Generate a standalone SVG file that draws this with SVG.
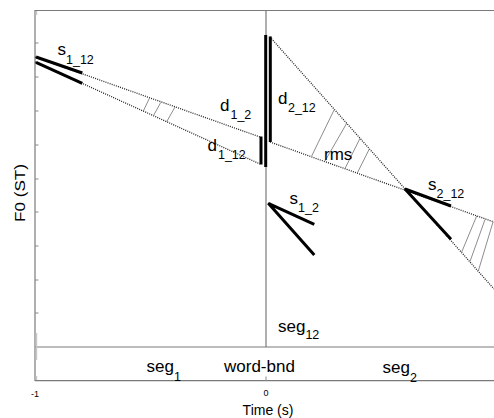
<svg xmlns="http://www.w3.org/2000/svg" width="494" height="418" viewBox="0 0 494 418">
<style>
.ax{stroke:#7a7a7a;stroke-width:1.2;fill:none}
.tk{stroke:#8a8a8a;stroke-width:1;fill:none}
.dot{stroke:#222;stroke-width:1.3;stroke-dasharray:1 1.2;fill:none}
.thk{stroke:#000;stroke-width:3;fill:none;stroke-linecap:butt}
.hat{stroke:#707070;stroke-width:0.8;fill:none}
text{font-family:"Liberation Sans",Arial,sans-serif;fill:#000}
.lbl{font-size:17px}
.sub{font-size:12.5px}
.big{font-size:17px}
.tick{font-size:9px}
.axl{font-size:14px}
</style>
<rect width="494" height="418" fill="#fff"/>
<g id="axes">
<line class="ax" x1="35" y1="10.5" x2="494" y2="10.5"/>
<line class="ax" x1="35" y1="10" x2="35" y2="381"/>
<line class="ax" x1="35" y1="380.7" x2="494" y2="380.7"/>
<line class="ax" x1="35" y1="347" x2="494" y2="347"/>
<line class="ax" x1="266" y1="10" x2="266" y2="347"/>
<line class="tk" x1="266" y1="376.5" x2="266" y2="381"/>
<line stroke="#c8c8c8" stroke-width="1.5" x1="36.5" y1="333" x2="36.5" y2="360"/>
<line stroke="#c8c8c8" stroke-width="1.5" x1="36.5" y1="11" x2="36.5" y2="15"/>
<line stroke="#c8c8c8" stroke-width="1.5" x1="36.5" y1="376" x2="36.5" y2="380"/>
<g class="tk">
<line x1="35" y1="43" x2="38.5" y2="43"/>
<line x1="35" y1="77" x2="38.5" y2="77"/>
<line x1="35" y1="111" x2="38.5" y2="111"/>
<line x1="35" y1="145" x2="38.5" y2="145"/>
<line x1="35" y1="179" x2="38.5" y2="179"/>
<line x1="35" y1="212" x2="38.5" y2="212"/>
<line x1="35" y1="246" x2="38.5" y2="246"/>
<line x1="35" y1="280" x2="38.5" y2="280"/>
<line x1="35" y1="313" x2="38.5" y2="313"/>
</g>
<text class="tick" x="35" y="396.5" text-anchor="middle">-1</text>
<text class="tick" x="266" y="396" text-anchor="middle">0</text>
<text class="axl" x="268" y="415" text-anchor="middle">Time (s)</text>
<text class="axl" x="0" y="0" text-anchor="middle" transform="translate(25,193) rotate(-90)" textLength="58" lengthAdjust="spacingAndGlyphs">F0 (ST)</text>
</g>
<g id="connectors">
<line class="dot" x1="35" y1="57" x2="260" y2="137"/>
<line class="dot" x1="35" y1="62" x2="260" y2="164"/>
<line class="dot" x1="270" y1="37" x2="494" y2="289"/>
<line class="dot" x1="270" y1="142" x2="494" y2="222"/>
</g>
<g id="hatching" class="hat">
<line x1="143.3" y1="111" x2="149.3" y2="98.5"/>
<line x1="153.3" y1="116" x2="160.7" y2="102.5"/>
<line x1="166.7" y1="121.7" x2="175" y2="107"/>
<line x1="311.7" y1="156" x2="334.3" y2="109.5"/>
<line x1="325" y1="161" x2="346.7" y2="123.3"/>
<line x1="345" y1="168.5" x2="360" y2="138.3"/>
<line x1="357.3" y1="173" x2="369.3" y2="149"/>
<line x1="461.7" y1="252" x2="476.7" y2="216"/>
<line x1="470" y1="261.5" x2="485" y2="219.5"/>
<line x1="478.3" y1="271" x2="493" y2="222"/>
</g>
<g id="slopes">
<line class="thk" x1="36" y1="57" x2="82.3" y2="73"/>
<line class="thk" x1="36" y1="62.3" x2="82.3" y2="83.3"/>
<polyline class="thk" points="314.3,224.3 268.3,203.3 314.3,255" stroke-linejoin="miter"/>
<polyline class="thk" points="451,206 405,189 451,239.3" stroke-linejoin="miter"/>
</g>
<g id="bars">
<line class="thk" x1="261" y1="136.5" x2="261" y2="164.5"/>
<line class="thk" x1="265.7" y1="35" x2="265.7" y2="167"/>
<line class="thk" x1="270.3" y1="36.5" x2="270.3" y2="142"/>
</g>
<g id="labels">
<text class="lbl" x="57.5" y="55">s<tspan class="sub" dy="9">1_12</tspan></text>
<text class="lbl" x="220" y="111">d<tspan class="sub" dx="1" dy="7.5">1_2</tspan></text>
<text class="lbl" x="207.5" y="151">d<tspan class="sub" dx="1" dy="7.5">1_12</tspan></text>
<text class="lbl" x="278" y="104">d<tspan class="sub" dx="0.5" dy="7.5">2_12</tspan></text>
<text class="lbl" x="324" y="159.5">rms</text>
<text class="lbl" x="289.5" y="204">s<tspan class="sub" dy="8">1_2</tspan></text>
<text class="lbl" x="428" y="190">s<tspan class="sub" dy="8">2_12</tspan></text>
<text class="big" x="278" y="332">seg<tspan class="sub" dy="7">12</tspan></text>
<text class="big" x="146.5" y="372">seg<tspan class="sub" dy="9">1</tspan></text>
<text class="big" x="224" y="372">word-bnd</text>
<text class="big" x="382.5" y="372.5">seg<tspan class="sub" dy="9">2</tspan></text>
</g>
</svg>
